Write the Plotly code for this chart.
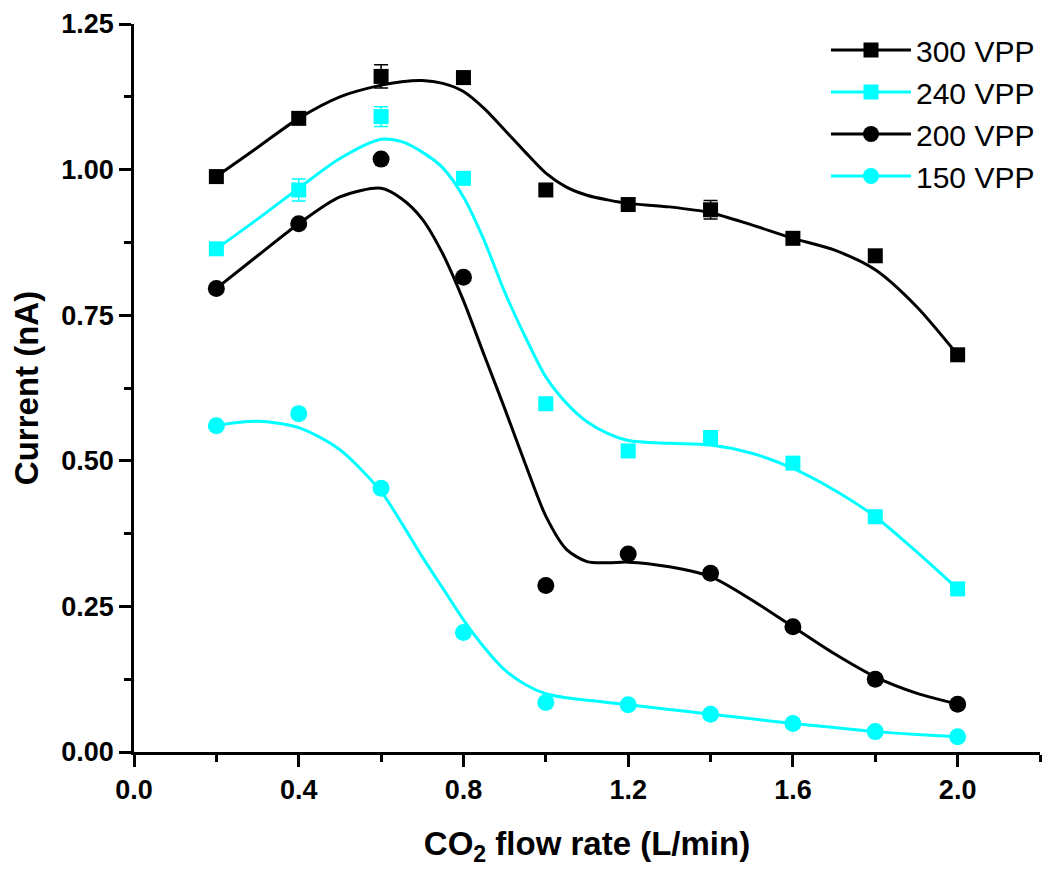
import plotly.graph_objects as go

# ---- data ----
flow = [0.2, 0.4, 0.6, 0.8, 1.0, 1.2, 1.4, 1.6, 1.8, 2.0]

vpp300 = [0.988, 1.088, 1.160, 1.158, 0.965, 0.940, 0.931, 0.882, 0.852, 0.682]
vpp240 = [0.864, 0.965, 1.091, 0.985, 0.598, 0.517, 0.540, 0.496, 0.404, 0.280]
vpp200 = [0.796, 0.907, 1.018, 0.815, 0.286, 0.340, 0.307, 0.215, 0.125, 0.082]
vpp150 = [0.560, 0.581, 0.453, 0.205, 0.085, 0.081, 0.065, 0.049, 0.035, 0.026]

err300 = [0.0, 0.0, 0.020, 0.008, 0.0, 0.0, 0.016, 0.0, 0.0, 0.0]
err240 = [0.0, 0.019, 0.017, 0.0, 0.0, 0.0, 0.0, 0.0, 0.0, 0.0]

# fitted (smoothed) curves
fit_x = [0.2, 0.3, 0.4, 0.5, 0.6, 0.65, 0.7, 0.75, 0.8, 0.85, 0.9, 0.95, 1.0, 1.05, 1.1, 1.15,
         1.2, 1.3, 1.4, 1.5, 1.6, 1.7, 1.8, 1.9, 2.0]
fit300 = [0.988, 1.038, 1.088, 1.125, 1.145, 1.151, 1.153, 1.148, 1.134, 1.105, 1.068, 1.030, 0.994, 0.970, 0.956, 0.948,
          0.942, 0.936, 0.926, 0.905, 0.882, 0.862, 0.828, 0.765, 0.682]
fit240 = [0.864, 0.915, 0.968, 1.019, 1.052, 1.048, 1.030, 1.003, 0.953, 0.879, 0.790, 0.713, 0.644, 0.599, 0.567, 0.547,
          0.535, 0.530, 0.527, 0.513, 0.487, 0.450, 0.404, 0.344, 0.280]
fit200 = [0.796, 0.852, 0.907, 0.953, 0.968, 0.950, 0.915, 0.855, 0.775, 0.682, 0.590, 0.495, 0.405, 0.348, 0.327, 0.325,
          0.326, 0.318, 0.301, 0.261, 0.215, 0.169, 0.129, 0.101, 0.082]
fit150 = [0.561, 0.568, 0.557, 0.519, 0.447, 0.393, 0.335, 0.281, 0.227, 0.180, 0.141, 0.116, 0.100, 0.093, 0.089, 0.085,
          0.081, 0.073, 0.065, 0.057, 0.049, 0.042, 0.035, 0.030, 0.026]

names = ["300 VPP", "240 VPP", "200 VPP", "150 VPP"]
x_ticks = [0.0, 0.4, 0.8, 1.2, 1.6, 2.0]
y_ticks = [0.00, 0.25, 0.50, 0.75, 1.00, 1.25]

BLACK = "#000000"
CYAN = "#00FFFF"
FONT = "Arial, Liberation Sans, sans-serif"

series = [
    (names[0], vpp300, err300, fit300, BLACK, "square", 15),
    (names[1], vpp240, err240, fit240, CYAN, "square", 15),
    (names[2], vpp200, None, fit200, BLACK, "circle", 17),
    (names[3], vpp150, None, fit150, CYAN, "circle", 17),
]

fig = go.Figure()

for name, ys, err, fit, color, sym, size in series:
    fig.add_trace(go.Scatter(
        x=fit_x, y=fit, mode="lines",
        line=dict(color=color, width=3, shape="spline", smoothing=0.8),
        showlegend=False, hoverinfo="skip",
    ))
    fig.add_trace(go.Scatter(
        x=flow, y=ys, mode="markers",
        marker=dict(symbol=sym, size=size, color=color, line=dict(width=0)),
        error_y=(dict(type="data", array=err, visible=True, color=color,
                      thickness=1.5, width=7) if err else None),
        showlegend=False,
    ))

# legend entries
for name, ys, err, fit, color, sym, size in series:
    fig.add_trace(go.Scatter(
        x=[None], y=[None], mode="lines+markers", name=name,
        line=dict(color=color, width=3),
        marker=dict(symbol=sym, size=size, color=color),
    ))

axis_common = dict(
    showline=True, linecolor=BLACK, linewidth=2.5,
    ticks="outside", tickcolor=BLACK, tickwidth=2.5, ticklen=12,
    showgrid=False, zeroline=False, mirror=False, automargin=False,
    tickfont=dict(family=FONT, size=27, color=BLACK, weight="bold"),
)

fig.update_xaxes(
    range=[0, 2.2], tickvals=x_ticks, ticktext=[f"{v:.1f}" for v in x_ticks],
    minor=dict(ticks="outside", dtick=0.2, tick0=0, ticklen=7, tickwidth=2.5, tickcolor=BLACK),
    title=dict(text="CO<sub>2</sub> flow rate (L/min)",
               font=dict(family=FONT, size=33, color=BLACK, weight="bold"), standoff=28),
    **axis_common,
)
fig.update_yaxes(
    range=[0, 1.25], tickvals=y_ticks, ticktext=[f"{v:.2f}" for v in y_ticks],
    minor=dict(ticks="outside", dtick=0.125, tick0=0, ticklen=7, tickwidth=2.5, tickcolor=BLACK),
    title=dict(text="Current (nA)",
               font=dict(family=FONT, size=33, color=BLACK, weight="bold"), standoff=18),
    **axis_common,
)

fig.update_layout(
    width=1042, height=868,
    margin=dict(l=126, r=10, t=16, b=124),
    paper_bgcolor="white", plot_bgcolor="white",
    font=dict(family=FONT, color=BLACK),
    legend=dict(
        x=1.0, y=1.0, xanchor="right", yanchor="top",
        font=dict(family=FONT, size=30, color=BLACK),
        bgcolor="rgba(0,0,0,0)", tracegroupgap=0,
        itemwidth=80,
    ),
)

fig.write_html("out.html")
